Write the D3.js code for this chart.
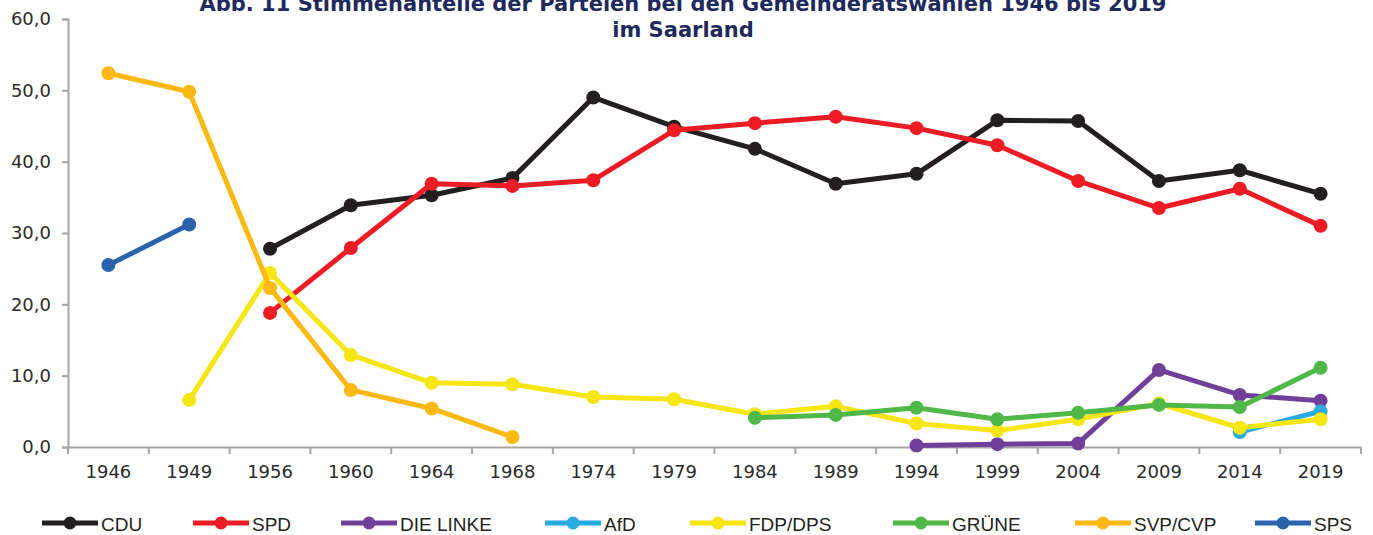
<!DOCTYPE html>
<html lang="de">
<head>
<meta charset="utf-8">
<title>Stimmenanteile Saarland</title>
<script src="https://cdnjs.cloudflare.com/ajax/libs/d3/7.8.5/d3.min.js"></script>
<style>
  html, body { margin: 0; padding: 0; background: white; }
  svg { display: block; }
  .title { font-family: "DejaVu Sans", Verdana, sans-serif; font-weight: bold; font-size: 21px; fill: #1f2a5c; }
  .axis text { font-family: "DejaVu Sans", Verdana, sans-serif; font-size: 18px; fill: #2b2b2b; }
  .axis path, .axis line { stroke: #a6a6a6; stroke-width: 2px; }
  .legend text { font-family: "Liberation Sans Narrow", "Liberation Sans", sans-serif; font-size: 19px; fill: #231f20; }
</style>
</head>
<body>
<svg id="chart" width="1373" height="535"></svg>
<script>
// categories (election years)
var years = ["1946","1949","1956","1960","1964","1968","1974","1979","1984","1989","1994","1999","2004","2009","2014","2019"];

// vote shares in %, null = not running
var cdu   = [null, null, 27.8, 33.9, 35.3, 37.7, 49.0, 44.9, 41.8, 36.9, 38.3, 45.8, 45.7, 37.3, 38.8, 35.5];
var spd   = [null, null, 18.8, 27.9, 36.9, 36.6, 37.4, 44.4, 45.4, 46.3, 44.7, 42.3, 37.3, 33.5, 36.2, 31.0];
var linke = [null, null, null, null, null, null, null, null, null, null, 0.2, 0.4, 0.5, 10.8, 7.3, 6.5];
var afd   = [null, null, null, null, null, null, null, null, null, null, null, null, null, null, 2.1, 5.0];
var fdp   = [null, 6.6, 24.4, 12.9, 9.0, 8.8, 7.0, 6.7, 4.6, 5.7, 3.3, 2.3, 3.9, 6.1, 2.7, 3.9];
var gruene= [null, null, null, null, null, null, null, null, 4.1, 4.5, 5.5, 3.9, 4.8, 5.9, 5.6, 11.1];
var svp   = [52.4, 49.8, 22.3, 8.0, 5.4, 1.4, null, null, null, null, null, null, null, null, null, null];
var sps   = [25.5, 31.2, null, null, null, null, null, null, null, null, null, null, null, null, null, null];

var yTicks = [0, 10, 20, 30, 40, 50, 60];

var series = [
  { name: "CDU",       values: cdu,    color: "#231f20" },
  { name: "SPD",       values: spd,    color: "#ed1c24" },
  { name: "DIE LINKE", values: linke,  color: "#703f98" },
  { name: "AfD",       values: afd,    color: "#29abe2" },
  { name: "FDP/DPS",   values: fdp,    color: "#f5e614" },
  { name: "GRÜNE",     values: gruene, color: "#50b848" },
  { name: "SVP/CVP",   values: svp,    color: "#fdb913" },
  { name: "SPS",       values: sps,    color: "#2a62ae" }
];

var svg = d3.select("#chart");

var plotLeft = 68, plotRight = 1361, plotTop = 19, plotBottom = 447;

var x = d3.scaleBand().domain(years).range([plotLeft, plotRight]);
var y = d3.scaleLinear().domain([0, 60]).range([plotBottom, plotTop]);

var fmt = function (d) { return d3.format(".1f")(d).replace(".", ","); };

// axes
svg.append("g")
  .attr("class", "axis")
  .attr("transform", "translate(" + plotLeft + ",0)")
  .call(d3.axisLeft(y).tickValues(yTicks).tickFormat(fmt).tickSizeOuter(0).tickSize(6).tickPadding(11));

var xAxis = svg.append("g")
  .attr("class", "axis")
  .attr("transform", "translate(0," + plotBottom + ")")
  .call(d3.axisBottom(x).tickSize(0).tickSizeOuter(0).tickPadding(18));

// ticks between the categories
xAxis.selectAll(".sep")
  .data(years.concat(["end"]))
  .enter().append("line")
  .attr("class", "sep")
  .attr("x1", function (d, i) { return plotLeft + i * x.step(); })
  .attr("x2", function (d, i) { return plotLeft + i * x.step(); })
  .attr("y1", 0).attr("y2", 7);

// lines and markers
var line = d3.line()
  .defined(function (d) { return d != null; })
  .x(function (d, i) { return x(years[i]) + x.bandwidth() / 2; })
  .y(function (d) { return y(d); });

series.forEach(function (s) {
  var g = svg.append("g");
  g.append("path")
    .attr("d", line(s.values))
    .attr("fill", "none")
    .attr("stroke", s.color)
    .attr("stroke-width", 5)
    .attr("stroke-linejoin", "round");
  g.selectAll("circle")
    .data(s.values.map(function (v, i) { return { v: v, yr: years[i] }; }).filter(function (d) { return d.v != null; }))
    .enter().append("circle")
    .attr("cx", function (d) { return x(d.yr) + x.bandwidth() / 2; })
    .attr("cy", function (d) { return y(d.v); })
    .attr("r", 7)
    .attr("fill", s.color);
});

// title (drawn last, partly cut at the top like the original)
var title = svg.append("text").attr("class", "title").attr("text-anchor", "middle");
title.append("tspan").attr("x", 683).attr("y", 11).text("Abb. 11 Stimmenanteile der Parteien bei den Gemeinderatswahlen 1946 bis 2019");
title.append("tspan").attr("x", 683).attr("y", 37).text("im Saarland");

// legend
var legendX = [42, 193, 341, 545, 690, 893, 1075, 1255];
var legend = svg.append("g").attr("class", "legend");
series.forEach(function (s, i) {
  var lx = legendX[i];
  legend.append("line")
    .attr("x1", lx).attr("x2", lx + 56)
    .attr("y1", 523).attr("y2", 523)
    .attr("stroke", s.color).attr("stroke-width", 5);
  legend.append("circle")
    .attr("cx", lx + 28).attr("cy", 523).attr("r", 6.5)
    .attr("fill", s.color);
  legend.append("text")
    .attr("x", lx + 59).attr("y", 531)
    .text(s.name);
});
</script>
</body>
</html>
